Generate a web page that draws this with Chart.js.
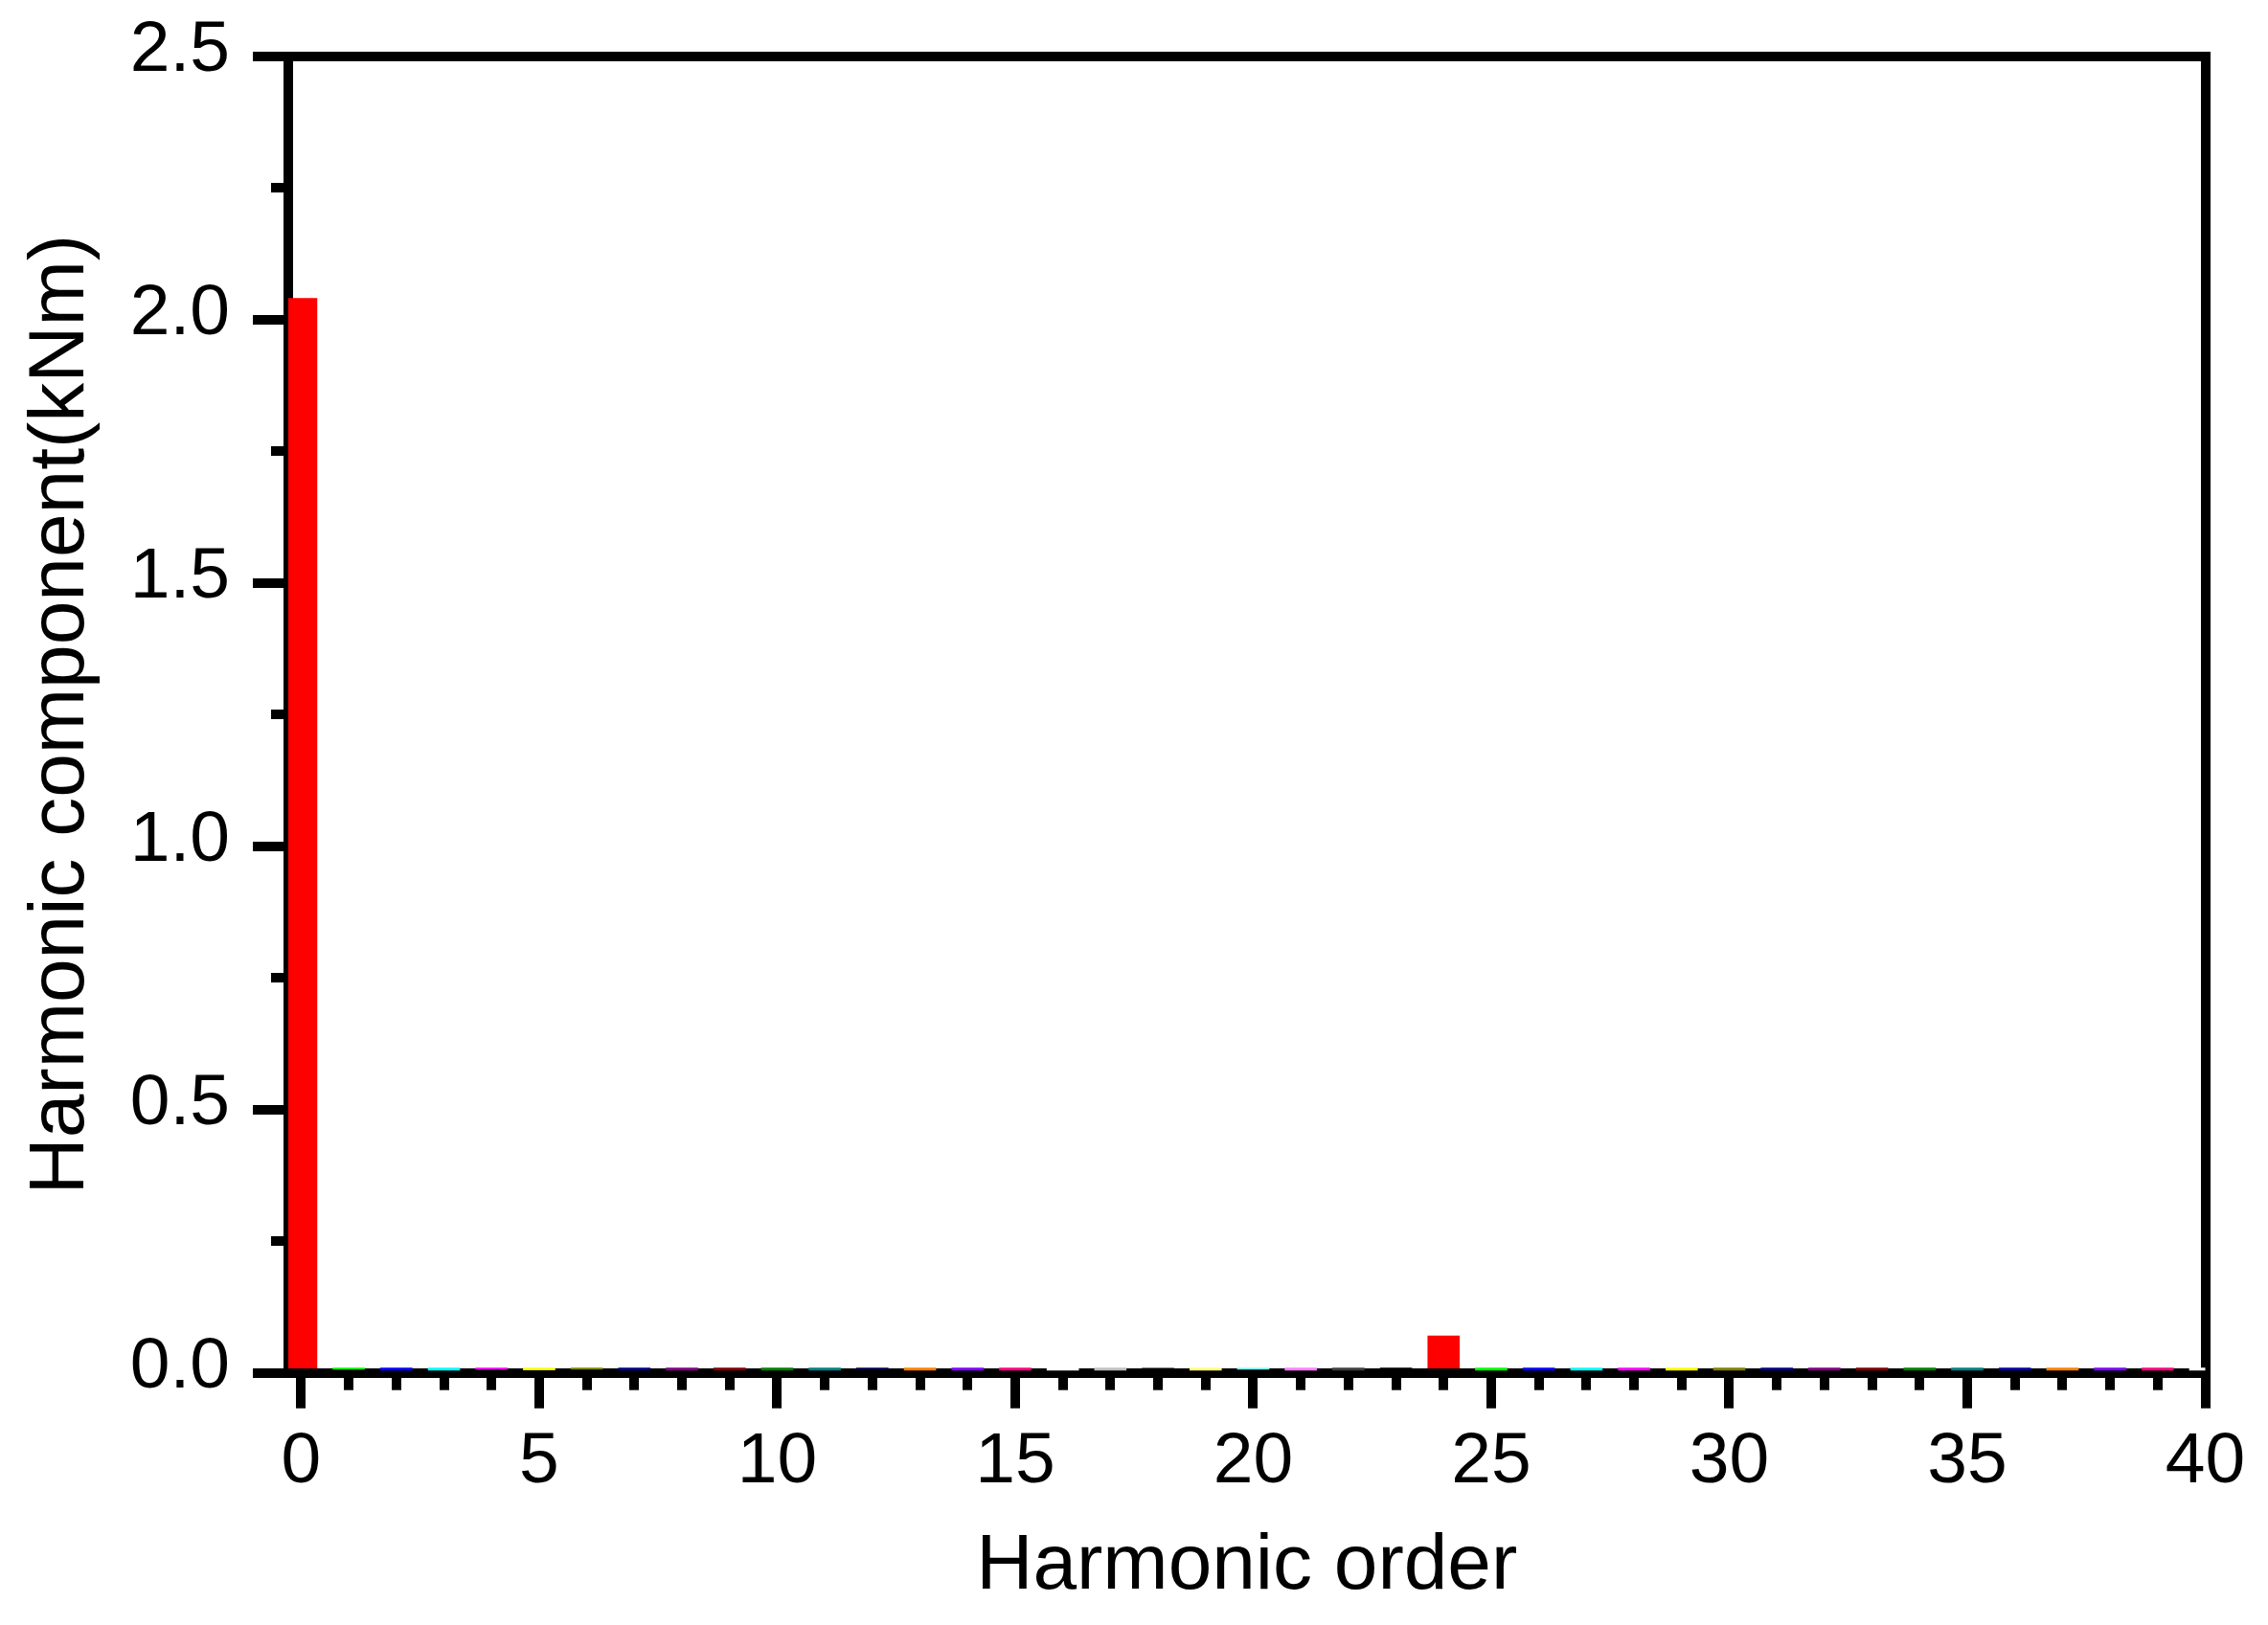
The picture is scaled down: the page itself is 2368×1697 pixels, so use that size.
<!DOCTYPE html>
<html>
<head>
<meta charset="utf-8">
<script src="https://cdn.jsdelivr.net/npm/chart.js@4/dist/chart.umd.min.js"></script>
<style>
  html, body { margin: 0; padding: 0; background: #fff; }
  canvas { display: block; }
</style>
</head>
<body>
<canvas id="c" width="2368" height="1697"></canvas>
<script>
// Harmonic orders (x categories)
const orders = [0,1,2,3,4,5,6,7,8,9,10,11,12,13,14,15,16,17,18,19,20,
                21,22,23,24,25,26,27,28,29,30,31,32,33,34,35,36,37,38,39,40];
// Harmonic component amplitude (kNm)
const values = [2.04, 0.0067, 0.005, 0.005, 0.0067, 0.0055, 0.0067, 0.005, 0.005, 0.005,
                0.005, 0.005, 0.0085, 0.005, 0.005, 0.005, 0.005, 0.005, 0.0098, 0.005,
                0.0067, 0.005, 0.005, 0.005, 0.070, 0.005, 0.005, 0.005, 0.005, 0.005,
                0.005, 0.005, 0.005, 0.005, 0.005, 0.005, 0.005, 0.005, 0.005, 0.005, 0.005];
// Axis tick values
const xMajorTicks = [0, 5, 10, 15, 20, 25, 30, 35, 40];
const yMajorTicks = [0.0, 0.5, 1.0, 1.5, 2.0, 2.5];
const xLabel = 'Harmonic order';
const yLabel = 'Harmonic component(kNm)';

// Colour cycle (Origin default increment)
const palette = ['#FF0000','#00FF00','#0000FF','#00FFFF','#FF00FF','#FFFF00','#808000','#000080',
                 '#800080','#800000','#008000','#008080','#0000A0','#FF8000','#8000FF','#FF0080',
                 '#FFFFFF','#C0C0C0','#808080','#FFFF80','#80FFFF','#FF80FF','#404040','#000000'];

const W = 2368, H = 1697;
const AREA = { left: 301, right: 2302.5, top: 58.7, bottom: 1433.7 };
const FONT = 'Liberation Sans, Arial, Helvetica, sans-serif';

Chart.defaults.color = '#000';
Chart.defaults.font.family = FONT;

const border = { display: true, color: '#000', width: 10 };
const noGrid = { display: false };
const zeroPad = s => { s.paddingTop = 0; s.paddingBottom = 0; s.paddingLeft = 0; s.paddingRight = 0; };

new Chart(document.getElementById('c'), {
  type: 'bar',
  data: {
    datasets: [{
      data: orders.map((o, i) => ({ x: o, y: values[i] })),
      backgroundColor: orders.map((o, i) => palette[i % palette.length]),
      borderWidth: 0,
      barThickness: 33,
      clip: 0,
      xAxisID: 'x',
      yAxisID: 'y'
    }]
  },
  options: {
    responsive: false,
    animation: false,
    events: [],
    layout: { padding: { left: 0, right: W - AREA.right, top: AREA.top, bottom: 0 } },
    plugins: { legend: { display: false }, tooltip: { enabled: false } },
    scales: {
      x: {
        type: 'linear', position: 'bottom', weight: 1, offset: false,
        min: -0.27, max: 40,
        afterBuildTicks: s => { s.ticks = xMajorTicks.map(v => ({ value: v })); },
        ticks: { font: { size: 75 }, padding: 12, maxRotation: 0, autoSkip: false, color: '#000',
                 callback: v => String(v) },
        grid: { display: true, drawOnChartArea: false, drawTicks: true, tickLength: 37, offset: false,
                tickWidth: 10, tickColor: '#000', lineWidth: 10, color: '#000' },
        border: border,
        title: { display: true, text: xLabel, font: { size: 82 }, color: '#000',
                 padding: { top: 0, bottom: 11 } },
        afterFit: s => { s.height = H - AREA.bottom; zeroPad(s); }
      },
      xMinor: {
        type: 'linear', position: 'bottom', weight: 0, offset: false,
        min: -0.27, max: 40,
        ticks: { display: false, stepSize: 1, includeBounds: false },
        grid: { display: true, drawOnChartArea: false, drawTicks: true, tickLength: 18, offset: false,
                tickWidth: 10, tickColor: '#000', lineWidth: 10, color: '#000' },
        border: { display: false },
        afterFit: s => { s.height = 0; zeroPad(s); }
      },
      xTop: {
        type: 'linear', position: 'top', weight: 0, offset: false,
        min: -0.27, max: 40,
        ticks: { display: false },
        grid: noGrid,
        border: border,
        afterFit: s => { s.height = 0; zeroPad(s); }
      },
      y: {
        type: 'linear', position: 'left', weight: 1,
        min: 0, max: 2.5,
        afterBuildTicks: s => { s.ticks = yMajorTicks.map(v => ({ value: v })); },
        ticks: { font: { size: 75 }, padding: 24, labelOffset: -5, color: '#000', autoSkip: false,
                 callback: v => Number(v).toFixed(1) },
        grid: { display: true, drawOnChartArea: false, drawTicks: true, tickLength: 37,
                tickWidth: 10, tickColor: '#000', lineWidth: 10, color: '#000' },
        border: border,
        title: { display: true, text: yLabel, font: { size: 82 }, color: '#000',
                 padding: { top: 15, bottom: 0 } },
        afterFit: s => { s.width = AREA.left; zeroPad(s); }
      },
      yMinor: {
        type: 'linear', position: 'left', weight: 0,
        min: 0, max: 2.5,
        ticks: { display: false, stepSize: 0.25 },
        grid: { display: true, drawOnChartArea: false, drawTicks: true, tickLength: 18,
                tickWidth: 10, tickColor: '#000', lineWidth: 10, color: '#000' },
        border: { display: false },
        afterFit: s => { s.width = 0; zeroPad(s); }
      },
      yRight: {
        type: 'linear', position: 'right', weight: 0,
        min: 0, max: 2.5,
        ticks: { display: false },
        grid: noGrid,
        border: border,
        afterFit: s => { s.width = 0; zeroPad(s); }
      }
    }
  }
});
</script>
</body>
</html>
